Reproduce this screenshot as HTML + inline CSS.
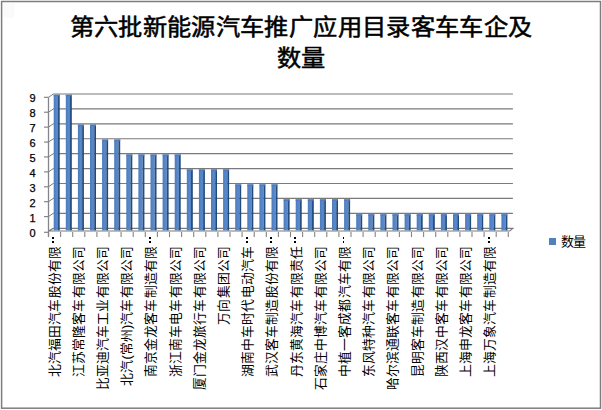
<!DOCTYPE html>
<html lang="zh-CN"><head><meta charset="utf-8">
<style>
html,body{margin:0;padding:0;background:#fff;}
#c{position:relative;width:602px;height:410px;overflow:hidden;background:#fff;}
.t{position:absolute;left:0;width:602px;text-align:center;font-family:"Liberation Serif",serif;font-weight:normal;-webkit-text-stroke:0.55px #000;font-size:24px;letter-spacing:0.1px;color:#000;white-space:nowrap;line-height:30px;transform:scale(1.01,0.93);}
.yl{position:absolute;left:20px;width:15.5px;text-align:right;font-family:"Liberation Sans",sans-serif;font-size:11px;line-height:12px;color:#000;-webkit-text-stroke:0.25px #000;}
.lbl{position:absolute;top:245.5px;transform-origin:0 0;transform:rotate(-90deg) translate(-100%,-50%);font-family:"Liberation Sans",sans-serif;font-size:12.8px;letter-spacing:0.1px;line-height:12px;color:#000;white-space:nowrap;}
.dot{position:absolute;width:1.6px;height:1.6px;background:#000;}
#leg{position:absolute;left:548.7px;top:238px;width:7.8px;height:7px;background:#4f81bd;}
#legt{position:absolute;left:560.5px;top:233.8px;letter-spacing:-0.6px;font-family:"Liberation Sans",sans-serif;font-size:13px;line-height:16px;color:#000;}
svg{position:absolute;left:0;top:0;}
</style></head><body><div id="c">
<div class="t" style="top:13px">第六批新能源汽车推广应用目录客车车企及</div>
<div class="t" style="top:44px">数量</div>
<svg width="602" height="410" viewBox="0 0 602 410">
<defs>
<linearGradient id="gf" x1="0" x2="1" y1="0" y2="0"><stop offset="0" stop-color="#4a7bbb"/><stop offset="0.7" stop-color="#5a89cc"/><stop offset="1" stop-color="#4f80c2"/></linearGradient>
<linearGradient id="gs" x1="0" x2="1" y1="0" y2="0"><stop offset="0" stop-color="#2a5588"/><stop offset="1" stop-color="#1e4572"/></linearGradient>
</defs>
<rect x="3.5" y="3.5" width="11" height="14" fill="#fafafa"/><rect x="1.6" y="1.5" width="598.9" height="406.7" fill="none" stroke="#7d7d7d" stroke-width="1.5"/><line x1="53.30" y1="213.30" x2="512.90" y2="213.30" stroke="#7a7a7a" stroke-width="1.15"/><line x1="48.50" y1="216.60" x2="53.30" y2="213.30" stroke="#7a7a7a" stroke-width="1"/><line x1="44" y1="216.60" x2="48.50" y2="216.60" stroke="#858585" stroke-width="1.2"/><line x1="53.30" y1="198.39" x2="512.90" y2="198.39" stroke="#7a7a7a" stroke-width="1.15"/><line x1="48.50" y1="201.69" x2="53.30" y2="198.39" stroke="#7a7a7a" stroke-width="1"/><line x1="44" y1="201.69" x2="48.50" y2="201.69" stroke="#858585" stroke-width="1.2"/><line x1="53.30" y1="183.48" x2="512.90" y2="183.48" stroke="#7a7a7a" stroke-width="1.15"/><line x1="48.50" y1="186.78" x2="53.30" y2="183.48" stroke="#7a7a7a" stroke-width="1"/><line x1="44" y1="186.78" x2="48.50" y2="186.78" stroke="#858585" stroke-width="1.2"/><line x1="53.30" y1="168.57" x2="512.90" y2="168.57" stroke="#7a7a7a" stroke-width="1.15"/><line x1="48.50" y1="171.87" x2="53.30" y2="168.57" stroke="#7a7a7a" stroke-width="1"/><line x1="44" y1="171.87" x2="48.50" y2="171.87" stroke="#858585" stroke-width="1.2"/><line x1="53.30" y1="153.66" x2="512.90" y2="153.66" stroke="#7a7a7a" stroke-width="1.15"/><line x1="48.50" y1="156.96" x2="53.30" y2="153.66" stroke="#7a7a7a" stroke-width="1"/><line x1="44" y1="156.96" x2="48.50" y2="156.96" stroke="#858585" stroke-width="1.2"/><line x1="53.30" y1="138.75" x2="512.90" y2="138.75" stroke="#7a7a7a" stroke-width="1.15"/><line x1="48.50" y1="142.05" x2="53.30" y2="138.75" stroke="#7a7a7a" stroke-width="1"/><line x1="44" y1="142.05" x2="48.50" y2="142.05" stroke="#858585" stroke-width="1.2"/><line x1="53.30" y1="123.84" x2="512.90" y2="123.84" stroke="#7a7a7a" stroke-width="1.15"/><line x1="48.50" y1="127.14" x2="53.30" y2="123.84" stroke="#7a7a7a" stroke-width="1"/><line x1="44" y1="127.14" x2="48.50" y2="127.14" stroke="#858585" stroke-width="1.2"/><line x1="53.30" y1="108.93" x2="512.90" y2="108.93" stroke="#7a7a7a" stroke-width="1.15"/><line x1="48.50" y1="112.23" x2="53.30" y2="108.93" stroke="#7a7a7a" stroke-width="1"/><line x1="44" y1="112.23" x2="48.50" y2="112.23" stroke="#858585" stroke-width="1.2"/><line x1="53.30" y1="94.02" x2="512.90" y2="94.02" stroke="#7a7a7a" stroke-width="1.15"/><line x1="48.50" y1="97.32" x2="53.30" y2="94.02" stroke="#7a7a7a" stroke-width="1"/><line x1="44" y1="97.32" x2="48.50" y2="97.32" stroke="#858585" stroke-width="1.2"/><line x1="44" y1="232.30" x2="48.50" y2="232.30" stroke="#858585" stroke-width="1.2"/><polygon points="48.50,231.0 53.30,228.4 512.90,228.4 509.80,231.0" fill="#ffffff" stroke="#7a7a7a" stroke-width="1.1"/><line x1="48.50" y1="97.3" x2="48.50" y2="236.80" stroke="#858585" stroke-width="1.3"/><line x1="48.50" y1="232.00" x2="48.50" y2="237.10" stroke="#858585" stroke-width="1.1"/><line x1="60.60" y1="232.00" x2="60.60" y2="237.10" stroke="#858585" stroke-width="1.1"/><line x1="72.70" y1="232.00" x2="72.70" y2="237.10" stroke="#858585" stroke-width="1.1"/><line x1="84.80" y1="232.00" x2="84.80" y2="237.10" stroke="#858585" stroke-width="1.1"/><line x1="96.90" y1="232.00" x2="96.90" y2="237.10" stroke="#858585" stroke-width="1.1"/><line x1="109.00" y1="232.00" x2="109.00" y2="237.10" stroke="#858585" stroke-width="1.1"/><line x1="121.10" y1="232.00" x2="121.10" y2="237.10" stroke="#858585" stroke-width="1.1"/><line x1="133.20" y1="232.00" x2="133.20" y2="237.10" stroke="#858585" stroke-width="1.1"/><line x1="145.30" y1="232.00" x2="145.30" y2="237.10" stroke="#858585" stroke-width="1.1"/><line x1="157.40" y1="232.00" x2="157.40" y2="237.10" stroke="#858585" stroke-width="1.1"/><line x1="169.50" y1="232.00" x2="169.50" y2="237.10" stroke="#858585" stroke-width="1.1"/><line x1="181.60" y1="232.00" x2="181.60" y2="237.10" stroke="#858585" stroke-width="1.1"/><line x1="193.70" y1="232.00" x2="193.70" y2="237.10" stroke="#858585" stroke-width="1.1"/><line x1="205.80" y1="232.00" x2="205.80" y2="237.10" stroke="#858585" stroke-width="1.1"/><line x1="217.90" y1="232.00" x2="217.90" y2="237.10" stroke="#858585" stroke-width="1.1"/><line x1="230.00" y1="232.00" x2="230.00" y2="237.10" stroke="#858585" stroke-width="1.1"/><line x1="242.10" y1="232.00" x2="242.10" y2="237.10" stroke="#858585" stroke-width="1.1"/><line x1="254.20" y1="232.00" x2="254.20" y2="237.10" stroke="#858585" stroke-width="1.1"/><line x1="266.30" y1="232.00" x2="266.30" y2="237.10" stroke="#858585" stroke-width="1.1"/><line x1="278.40" y1="232.00" x2="278.40" y2="237.10" stroke="#858585" stroke-width="1.1"/><line x1="290.50" y1="232.00" x2="290.50" y2="237.10" stroke="#858585" stroke-width="1.1"/><line x1="302.60" y1="232.00" x2="302.60" y2="237.10" stroke="#858585" stroke-width="1.1"/><line x1="314.70" y1="232.00" x2="314.70" y2="237.10" stroke="#858585" stroke-width="1.1"/><line x1="326.80" y1="232.00" x2="326.80" y2="237.10" stroke="#858585" stroke-width="1.1"/><line x1="338.90" y1="232.00" x2="338.90" y2="237.10" stroke="#858585" stroke-width="1.1"/><line x1="351.00" y1="232.00" x2="351.00" y2="237.10" stroke="#858585" stroke-width="1.1"/><line x1="363.10" y1="232.00" x2="363.10" y2="237.10" stroke="#858585" stroke-width="1.1"/><line x1="375.20" y1="232.00" x2="375.20" y2="237.10" stroke="#858585" stroke-width="1.1"/><line x1="387.30" y1="232.00" x2="387.30" y2="237.10" stroke="#858585" stroke-width="1.1"/><line x1="399.40" y1="232.00" x2="399.40" y2="237.10" stroke="#858585" stroke-width="1.1"/><line x1="411.50" y1="232.00" x2="411.50" y2="237.10" stroke="#858585" stroke-width="1.1"/><line x1="423.60" y1="232.00" x2="423.60" y2="237.10" stroke="#858585" stroke-width="1.1"/><line x1="435.70" y1="232.00" x2="435.70" y2="237.10" stroke="#858585" stroke-width="1.1"/><line x1="447.80" y1="232.00" x2="447.80" y2="237.10" stroke="#858585" stroke-width="1.1"/><line x1="459.90" y1="232.00" x2="459.90" y2="237.10" stroke="#858585" stroke-width="1.1"/><line x1="472.00" y1="232.00" x2="472.00" y2="237.10" stroke="#858585" stroke-width="1.1"/><line x1="484.10" y1="232.00" x2="484.10" y2="237.10" stroke="#858585" stroke-width="1.1"/><line x1="496.20" y1="232.00" x2="496.20" y2="237.10" stroke="#858585" stroke-width="1.1"/><line x1="508.30" y1="232.00" x2="508.30" y2="237.10" stroke="#858585" stroke-width="1.1"/><rect x="53.70" y="94.78" width="4.2" height="135.62" fill="url(#gf)"/><rect x="57.90" y="94.78" width="1.8" height="135.62" fill="url(#gs)"/><rect x="53.70" y="94.78" width="6.00" height="1.5" fill="#5279bd"/><rect x="65.80" y="94.78" width="4.2" height="135.62" fill="url(#gf)"/><rect x="70.00" y="94.78" width="1.8" height="135.62" fill="url(#gs)"/><rect x="65.80" y="94.78" width="6.00" height="1.5" fill="#5279bd"/><rect x="77.90" y="124.66" width="4.2" height="105.74" fill="url(#gf)"/><rect x="82.10" y="124.66" width="1.8" height="105.74" fill="url(#gs)"/><rect x="77.90" y="124.66" width="6.00" height="1.5" fill="#5279bd"/><rect x="90.00" y="124.66" width="4.2" height="105.74" fill="url(#gf)"/><rect x="94.20" y="124.66" width="1.8" height="105.74" fill="url(#gs)"/><rect x="90.00" y="124.66" width="6.00" height="1.5" fill="#5279bd"/><rect x="102.10" y="139.60" width="4.2" height="90.80" fill="url(#gf)"/><rect x="106.30" y="139.60" width="1.8" height="90.80" fill="url(#gs)"/><rect x="102.10" y="139.60" width="6.00" height="1.5" fill="#5279bd"/><rect x="114.20" y="139.60" width="4.2" height="90.80" fill="url(#gf)"/><rect x="118.40" y="139.60" width="1.8" height="90.80" fill="url(#gs)"/><rect x="114.20" y="139.60" width="6.00" height="1.5" fill="#5279bd"/><rect x="126.30" y="154.54" width="4.2" height="75.86" fill="url(#gf)"/><rect x="130.50" y="154.54" width="1.8" height="75.86" fill="url(#gs)"/><rect x="126.30" y="154.54" width="6.00" height="1.5" fill="#5279bd"/><rect x="138.40" y="154.54" width="4.2" height="75.86" fill="url(#gf)"/><rect x="142.60" y="154.54" width="1.8" height="75.86" fill="url(#gs)"/><rect x="138.40" y="154.54" width="6.00" height="1.5" fill="#5279bd"/><rect x="150.50" y="154.54" width="4.2" height="75.86" fill="url(#gf)"/><rect x="154.70" y="154.54" width="1.8" height="75.86" fill="url(#gs)"/><rect x="150.50" y="154.54" width="6.00" height="1.5" fill="#5279bd"/><rect x="162.60" y="154.54" width="4.2" height="75.86" fill="url(#gf)"/><rect x="166.80" y="154.54" width="1.8" height="75.86" fill="url(#gs)"/><rect x="162.60" y="154.54" width="6.00" height="1.5" fill="#5279bd"/><rect x="174.70" y="154.54" width="4.2" height="75.86" fill="url(#gf)"/><rect x="178.90" y="154.54" width="1.8" height="75.86" fill="url(#gs)"/><rect x="174.70" y="154.54" width="6.00" height="1.5" fill="#5279bd"/><rect x="186.80" y="169.48" width="4.2" height="60.92" fill="url(#gf)"/><rect x="191.00" y="169.48" width="1.8" height="60.92" fill="url(#gs)"/><rect x="186.80" y="169.48" width="6.00" height="1.5" fill="#5279bd"/><rect x="198.90" y="169.48" width="4.2" height="60.92" fill="url(#gf)"/><rect x="203.10" y="169.48" width="1.8" height="60.92" fill="url(#gs)"/><rect x="198.90" y="169.48" width="6.00" height="1.5" fill="#5279bd"/><rect x="211.00" y="169.48" width="4.2" height="60.92" fill="url(#gf)"/><rect x="215.20" y="169.48" width="1.8" height="60.92" fill="url(#gs)"/><rect x="211.00" y="169.48" width="6.00" height="1.5" fill="#5279bd"/><rect x="223.10" y="169.48" width="4.2" height="60.92" fill="url(#gf)"/><rect x="227.30" y="169.48" width="1.8" height="60.92" fill="url(#gs)"/><rect x="223.10" y="169.48" width="6.00" height="1.5" fill="#5279bd"/><rect x="235.20" y="184.42" width="4.2" height="45.98" fill="url(#gf)"/><rect x="239.40" y="184.42" width="1.8" height="45.98" fill="url(#gs)"/><rect x="235.20" y="184.42" width="6.00" height="1.5" fill="#5279bd"/><rect x="247.30" y="184.42" width="4.2" height="45.98" fill="url(#gf)"/><rect x="251.50" y="184.42" width="1.8" height="45.98" fill="url(#gs)"/><rect x="247.30" y="184.42" width="6.00" height="1.5" fill="#5279bd"/><rect x="259.40" y="184.42" width="4.2" height="45.98" fill="url(#gf)"/><rect x="263.60" y="184.42" width="1.8" height="45.98" fill="url(#gs)"/><rect x="259.40" y="184.42" width="6.00" height="1.5" fill="#5279bd"/><rect x="271.50" y="184.42" width="4.2" height="45.98" fill="url(#gf)"/><rect x="275.70" y="184.42" width="1.8" height="45.98" fill="url(#gs)"/><rect x="271.50" y="184.42" width="6.00" height="1.5" fill="#5279bd"/><rect x="283.60" y="199.36" width="4.2" height="31.04" fill="url(#gf)"/><rect x="287.80" y="199.36" width="1.8" height="31.04" fill="url(#gs)"/><rect x="283.60" y="199.36" width="6.00" height="1.5" fill="#5279bd"/><rect x="295.70" y="199.36" width="4.2" height="31.04" fill="url(#gf)"/><rect x="299.90" y="199.36" width="1.8" height="31.04" fill="url(#gs)"/><rect x="295.70" y="199.36" width="6.00" height="1.5" fill="#5279bd"/><rect x="307.80" y="199.36" width="4.2" height="31.04" fill="url(#gf)"/><rect x="312.00" y="199.36" width="1.8" height="31.04" fill="url(#gs)"/><rect x="307.80" y="199.36" width="6.00" height="1.5" fill="#5279bd"/><rect x="319.90" y="199.36" width="4.2" height="31.04" fill="url(#gf)"/><rect x="324.10" y="199.36" width="1.8" height="31.04" fill="url(#gs)"/><rect x="319.90" y="199.36" width="6.00" height="1.5" fill="#5279bd"/><rect x="332.00" y="199.36" width="4.2" height="31.04" fill="url(#gf)"/><rect x="336.20" y="199.36" width="1.8" height="31.04" fill="url(#gs)"/><rect x="332.00" y="199.36" width="6.00" height="1.5" fill="#5279bd"/><rect x="344.10" y="199.36" width="4.2" height="31.04" fill="url(#gf)"/><rect x="348.30" y="199.36" width="1.8" height="31.04" fill="url(#gs)"/><rect x="344.10" y="199.36" width="6.00" height="1.5" fill="#5279bd"/><rect x="356.20" y="214.30" width="4.2" height="16.10" fill="url(#gf)"/><rect x="360.40" y="214.30" width="1.8" height="16.10" fill="url(#gs)"/><rect x="356.20" y="214.30" width="6.00" height="1.5" fill="#5279bd"/><rect x="368.30" y="214.30" width="4.2" height="16.10" fill="url(#gf)"/><rect x="372.50" y="214.30" width="1.8" height="16.10" fill="url(#gs)"/><rect x="368.30" y="214.30" width="6.00" height="1.5" fill="#5279bd"/><rect x="380.40" y="214.30" width="4.2" height="16.10" fill="url(#gf)"/><rect x="384.60" y="214.30" width="1.8" height="16.10" fill="url(#gs)"/><rect x="380.40" y="214.30" width="6.00" height="1.5" fill="#5279bd"/><rect x="392.50" y="214.30" width="4.2" height="16.10" fill="url(#gf)"/><rect x="396.70" y="214.30" width="1.8" height="16.10" fill="url(#gs)"/><rect x="392.50" y="214.30" width="6.00" height="1.5" fill="#5279bd"/><rect x="404.60" y="214.30" width="4.2" height="16.10" fill="url(#gf)"/><rect x="408.80" y="214.30" width="1.8" height="16.10" fill="url(#gs)"/><rect x="404.60" y="214.30" width="6.00" height="1.5" fill="#5279bd"/><rect x="416.70" y="214.30" width="4.2" height="16.10" fill="url(#gf)"/><rect x="420.90" y="214.30" width="1.8" height="16.10" fill="url(#gs)"/><rect x="416.70" y="214.30" width="6.00" height="1.5" fill="#5279bd"/><rect x="428.80" y="214.30" width="4.2" height="16.10" fill="url(#gf)"/><rect x="433.00" y="214.30" width="1.8" height="16.10" fill="url(#gs)"/><rect x="428.80" y="214.30" width="6.00" height="1.5" fill="#5279bd"/><rect x="440.90" y="214.30" width="4.2" height="16.10" fill="url(#gf)"/><rect x="445.10" y="214.30" width="1.8" height="16.10" fill="url(#gs)"/><rect x="440.90" y="214.30" width="6.00" height="1.5" fill="#5279bd"/><rect x="453.00" y="214.30" width="4.2" height="16.10" fill="url(#gf)"/><rect x="457.20" y="214.30" width="1.8" height="16.10" fill="url(#gs)"/><rect x="453.00" y="214.30" width="6.00" height="1.5" fill="#5279bd"/><rect x="465.10" y="214.30" width="4.2" height="16.10" fill="url(#gf)"/><rect x="469.30" y="214.30" width="1.8" height="16.10" fill="url(#gs)"/><rect x="465.10" y="214.30" width="6.00" height="1.5" fill="#5279bd"/><rect x="477.20" y="214.30" width="4.2" height="16.10" fill="url(#gf)"/><rect x="481.40" y="214.30" width="1.8" height="16.10" fill="url(#gs)"/><rect x="477.20" y="214.30" width="6.00" height="1.5" fill="#5279bd"/><rect x="489.30" y="214.30" width="4.2" height="16.10" fill="url(#gf)"/><rect x="493.50" y="214.30" width="1.8" height="16.10" fill="url(#gs)"/><rect x="489.30" y="214.30" width="6.00" height="1.5" fill="#5279bd"/><rect x="501.40" y="214.30" width="4.2" height="16.10" fill="url(#gf)"/><rect x="505.60" y="214.30" width="1.8" height="16.10" fill="url(#gs)"/><rect x="501.40" y="214.30" width="6.00" height="1.5" fill="#5279bd"/>
</svg>
<div class="yl" style="top:227.3px">0</div><div class="yl" style="top:212.3px">1</div><div class="yl" style="top:197.3px">2</div><div class="yl" style="top:182.3px">3</div><div class="yl" style="top:167.3px">4</div><div class="yl" style="top:152.3px">5</div><div class="yl" style="top:137.3px">6</div><div class="yl" style="top:122.3px">7</div><div class="yl" style="top:107.3px">8</div><div class="yl" style="top:92.3px">9</div>
<div class="lbl" style="left:54.55px;">北汽福田汽车股份有限</div><div class="dot" style="left:52.35px;top:237.3px"></div><div class="dot" style="left:52.35px;top:241.2px"></div><div class="lbl" style="left:78.75px;">江苏常隆客车有限公司</div><div class="lbl" style="left:102.95px;">比亚迪汽车工业有限公司</div><div class="lbl" style="left:127.15px;">北汽(常州)汽车有限公司</div><div class="lbl" style="left:151.35px;">南京金龙客车制造有限</div><div class="dot" style="left:149.15px;top:237.3px"></div><div class="dot" style="left:149.15px;top:241.2px"></div><div class="lbl" style="left:175.55px;">浙江南车电车有限公司</div><div class="lbl" style="left:199.75px;">厦门金龙旅行车有限公司</div><div class="lbl" style="left:223.95px;">万向集团公司</div><div class="lbl" style="left:248.15px;">湖南中车时代电动汽车</div><div class="dot" style="left:245.95px;top:237.3px"></div><div class="dot" style="left:245.95px;top:241.2px"></div><div class="lbl" style="left:272.35px;">武汉客车制造股份有限</div><div class="dot" style="left:270.15px;top:237.3px"></div><div class="dot" style="left:270.15px;top:241.2px"></div><div class="lbl" style="left:296.55px;">丹东黄海汽车有限责任</div><div class="dot" style="left:294.35px;top:237.3px"></div><div class="dot" style="left:294.35px;top:241.2px"></div><div class="lbl" style="left:320.75px;">石家庄中博汽车有限公司</div><div class="lbl" style="left:344.95px;">中植一客成都汽车有限</div><div class="dot" style="left:342.75px;top:237.3px"></div><div class="dot" style="left:342.75px;top:241.2px"></div><div class="lbl" style="left:369.15px;">东风特种汽车有限公司</div><div class="lbl" style="left:393.35px;">哈尔滨通联客车有限公司</div><div class="lbl" style="left:417.55px;">昆明客车制造有限公司</div><div class="lbl" style="left:441.75px;">陕西汉中客车有限公司</div><div class="lbl" style="left:465.95px;">上海申龙客车有限公司</div><div class="lbl" style="left:490.15px;">上海万象汽车制造有限</div><div class="dot" style="left:487.95px;top:237.3px"></div><div class="dot" style="left:487.95px;top:241.2px"></div>
<div id="leg"></div>
<div id="legt">数量</div>
</div></body></html>
